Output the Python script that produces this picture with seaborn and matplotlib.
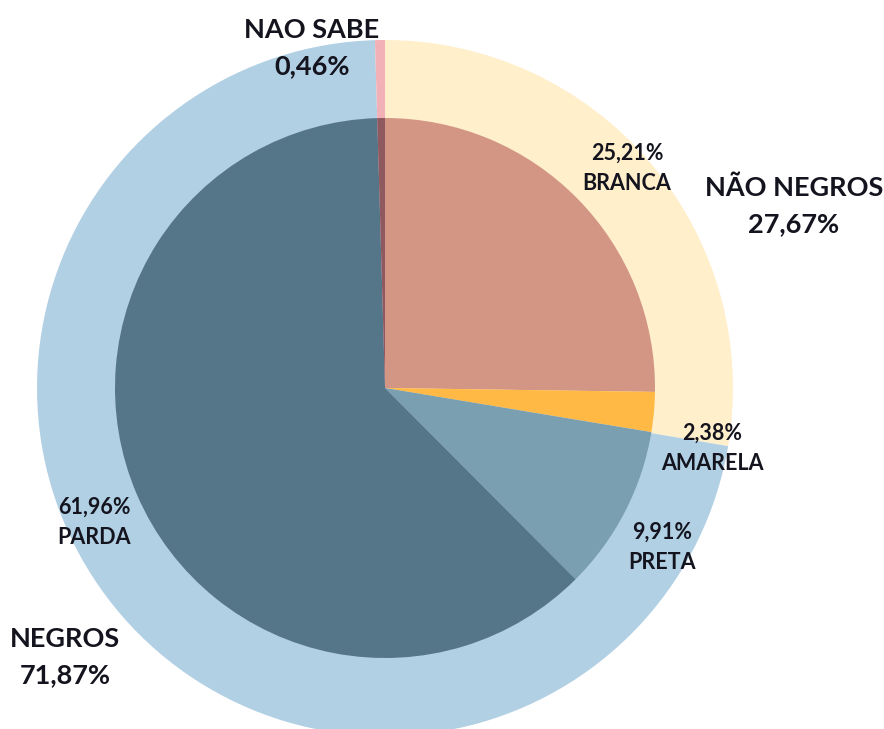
import matplotlib
matplotlib.use("Agg")
import matplotlib.pyplot as plt
import seaborn as sns

# outer ring: groups (clockwise from 12 o'clock)
outer_labels = ["NÃO NEGROS", "NEGROS", "NAO SABE"]
outer_values = [27.67, 71.87, 0.46]
outer_colors = ["#FFEFCB", "#B2D0E4", "#F2B1B7"]

# inner pie: categories (clockwise from 12 o'clock)
inner_labels = ["BRANCA", "AMARELA", "PRETA", "PARDA", "NAO SABE"]
inner_values = [25.21, 2.38, 9.91, 61.96, 0.46]
inner_colors = ["#D39685", "#FFB944", "#7A9FB0", "#557589", "#8E5A60"]

def pct(v):
    return f"{v:.2f}%".replace(".", ",")

sns.set_theme(style="white")
plt.rcParams["font.family"] = ["Lato", "DejaVu Sans"]

W, H = 884, 729
fig = plt.figure(figsize=(W / 100, H / 100), dpi=100)
ax = fig.add_axes([0, 0, 1, 1])

cx, cy = 385, H - 388
ax.pie(outer_values, colors=outer_colors, radius=348, center=(cx, cy),
       startangle=90, counterclock=False, frame=True,
       wedgeprops=dict(linewidth=0))
ax.pie(inner_values, colors=inner_colors, radius=270, center=(cx, cy),
       startangle=90, counterclock=False, frame=True,
       wedgeprops=dict(linewidth=0))

ax.set_xlim(0, W)
ax.set_ylim(0, H)
ax.set_aspect("equal")
ax.axis("off")

txt = "#14141f"
# group labels (big, bold)
big = dict(ha="center", va="center", fontsize=19.5, fontweight="bold",
           color=txt, linespacing=1.6)
ax.text(312, H - 48, f"{outer_labels[2]}\n{pct(outer_values[2])}", **big)
ax.text(794, H - 206, f"{outer_labels[0]}\n{pct(outer_values[0])}", **big)
ax.text(65, H - 657, f"{outer_labels[1]}\n{pct(outer_values[1])}", **big)

# category labels (small)
small = dict(ha="center", va="center", fontsize=15.5, fontweight="bold",
             color=txt, linespacing=1.55)
ax.text(627, H - 168, f"{pct(inner_values[0])}\n{inner_labels[0]}", **small)
ax.text(712, H - 448, f"{pct(inner_values[1])}\n{inner_labels[1]}", **small)
ax.text(662, H - 547, f"{pct(inner_values[2])}\n{inner_labels[2]}", **small)
ax.text(94, H - 522, f"{pct(inner_values[3])}\n{inner_labels[3]}", **small)

fig.savefig("out.png", dpi=100)
